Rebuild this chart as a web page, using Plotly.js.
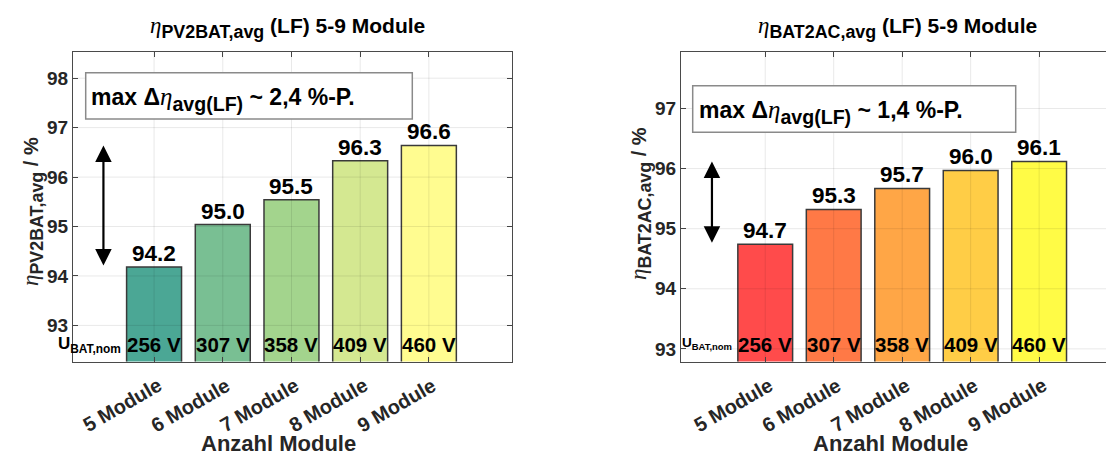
<!DOCTYPE html>
<html>
<head>
<meta charset="utf-8">
<script src="https://cdn.plot.ly/plotly-3.0.1.min.js"></script>
<style>
html,body{margin:0;padding:0;overflow:hidden;background:#fff;}
#chart{width:1130px;height:455px;}
</style>
</head>
<body>
<div id="chart"></div>
<script>
// ---- data ----
const categories = ['5 Module','6 Module','7 Module','8 Module','9 Module'];
const voltages = ['256 V','307 V','358 V','409 V','460 V'];
const etaPV2BAT = [94.18, 95.04, 95.54, 96.33, 96.64];
const etaBAT2AC = [94.74, 95.32, 95.67, 95.97, 96.12];
const colorsPV2BAT = ['#4BA795','#79BF93','#A3D48D','#D4E891','#FFFC90'];
const colorsBAT2AC = ['#FF4B4B','#FF7946','#FFA646','#FFCD46','#FFFB46'];
const yTicksLeft = [93,94,95,96,97,98];
const yTicksRight = [93,94,95,96,97];
const xTitle = 'Anzahl Module';
const boxTextLeft = '2,4 %-P.';
const boxTextRight = '1,4 %-P.';

// ---- helpers ----
const W = 1130, H = 455;
const px = v => v / W;
const py = v => 1 - v / H;
const idx = categories.map((_, i) => i);
const FONT = 'Liberation Sans, Arial, Helvetica, sans-serif';
const eta = s => '<span style="font-family:Liberation Serif;font-style:italic;font-weight:normal;font-size:' + s + 'px">η</span>';
const S = (t, s) => '<span style="font-size:' + s + 'px">' + t + '</span>';
const SUB = t => '<sub>' + t + '</sub>';

const barTrace = (vals, cols, xa, ya) => ({
  type: 'bar', x: idx, y: vals, width: 0.8, xaxis: xa, yaxis: ya,
  marker: {color: cols, line: {color: '#3a3a3a', width: 1.5}},
  hoverinfo: 'skip'
});

const data = [
  barTrace(etaPV2BAT, colorsPV2BAT, 'x', 'y'),
  barTrace(etaBAT2AC, colorsBAT2AC, 'x2', 'y2')
];

const axisCommon = {
  showline: true, linecolor: '#4a4a4a', linewidth: 1, mirror: 'ticks',
  ticks: 'inside', ticklen: 5, tickcolor: '#4a4a4a',
  showgrid: false, zeroline: false, layer: 'above traces',
  fixedrange: true
};
const yFont = {family: FONT, size: 19, color: '#262626', weight: 'bold'};

const layout = {
  width: W, height: H,
  margin: {l: 0, r: 0, t: 0, b: 0},
  paper_bgcolor: '#fff', plot_bgcolor: '#fff',
  showlegend: false,
  font: {family: FONT},
  xaxis: Object.assign({}, axisCommon, {domain: [px(73), px(512)], range: [-1.18, 5.21], tickvals: idx, showticklabels: false, anchor: 'y'}),
  yaxis: Object.assign({}, axisCommon, {domain: [py(361.5), py(52)], range: [92.27, 98.53], tickvals: yTicksLeft, tickfont: yFont, anchor: 'x'}),
  xaxis2: Object.assign({}, axisCommon, {domain: [px(681), px(1122)], range: [-1.23, 5.21], tickvals: idx, showticklabels: false, anchor: 'y2'}),
  yaxis2: Object.assign({}, axisCommon, {domain: [py(361.5), py(52)], range: [92.79, 97.94], tickvals: yTicksRight, tickfont: yFont, anchor: 'x2'}),
  shapes: [],
  annotations: []
};

// grid lines drawn over the bars (semi-transparent, like the original)
const gridLine = 'rgba(0,0,0,0.09)';
[['x', 'y', yTicksLeft], ['x2', 'y2', yTicksRight]].forEach(g => {
  idx.forEach(i => layout.shapes.push({type: 'line', xref: g[0], yref: g[1] + ' domain', x0: i, x1: i, y0: 0, y1: 1, line: {color: gridLine, width: 1}, layer: 'above'}));
  g[2].forEach(t => layout.shapes.push({type: 'line', xref: g[0] + ' domain', yref: g[1], x0: 0, x1: 1, y0: t, y1: t, line: {color: gridLine, width: 1}, layer: 'above'}));
});
layout.shapes.push(
  {type: 'rect', xref: 'paper', yref: 'paper', x0: px(85.7), x1: px(412.3), y0: py(119), y1: py(72.7), line: {color: '#8a8a8a', width: 1.5}, fillcolor: '#fff', layer: 'above'},
  {type: 'rect', xref: 'paper', yref: 'paper', x0: px(692.7), x1: px(1015.7), y0: py(132.3), y1: py(85.7), line: {color: '#8a8a8a', width: 1.5}, fillcolor: '#fff', layer: 'above'}
);

const ann = layout.annotations;
const bold = (size, color) => ({family: FONT, size: size, color: color || '#000', weight: 'bold'});

// titles (sub = 70% of annotation font size)
[['PV2BAT,avg', 287], ['BAT2AC,avg', 898]].forEach(t => {
  ann.push({xref: 'paper', yref: 'paper', x: px(t[1]), y: py(27), xanchor: 'center', yanchor: 'middle', showarrow: false,
    text: eta(23) + SUB(t[0]) + S(' (LF) 5-9 Module', 21), font: bold(25.5)});
});

// box texts
ann.push({xref: 'paper', yref: 'paper', x: px(89), y: py(99), xanchor: 'left', yanchor: 'middle', showarrow: false,
  text: S('max Δ', 23) + eta(25) + SUB('avg(LF)') + S(' ~ ' + boxTextLeft, 23), font: bold(28)});
ann.push({xref: 'paper', yref: 'paper', x: px(697), y: py(112), xanchor: 'left', yanchor: 'middle', showarrow: false,
  text: S('max Δ', 23) + eta(25) + SUB('avg(LF)') + S(' ~ ' + boxTextRight, 23), font: bold(28)});

// per-panel items
const panels = [
  {vals: etaPV2BAT, xa: 'x', ya: 'y', arrowX: -0.737, yl: 'PV2BAT,avg', ylx: 32, yly: 212, xtx: 278, ux: 56, uy: 345, us: 17, uf: 17},
  {vals: etaBAT2AC, xa: 'x2', ya: 'y2', arrowX: -0.778, yl: 'BAT2AC,avg', ylx: 641, yly: 204, xtx: 890, ux: 680, uy: 343, us: 13.5, uf: 13.5}
];
panels.forEach(p => {
  p.vals.forEach((v, i) => {
    ann.push({xref: p.xa, yref: p.ya, x: i, y: v, text: v.toFixed(1), yanchor: 'bottom', xanchor: 'center', showarrow: false, yshift: -1, font: bold(22.5)});
    ann.push({xref: p.xa, yref: 'paper', x: i, y: py(344), text: voltages[i], yanchor: 'middle', xanchor: 'center', showarrow: false, font: bold(20.5)});
    ann.push({xref: p.xa, yref: 'paper', x: i, y: py(405), xshift: -32, text: categories[i], textangle: -30, xanchor: 'center', yanchor: 'middle', showarrow: false, font: bold(20, '#262626')});
  });
  const vmin = Math.min.apply(null, p.vals), vmax = Math.max.apply(null, p.vals);
  ann.push({xref: p.xa, yref: p.ya, axref: p.xa, ayref: p.ya, x: p.arrowX, y: vmax, ax: p.arrowX, ay: vmin, text: '',
    showarrow: true, arrowhead: 2, arrowside: 'end+start', arrowsize: 1.5, arrowwidth: 2.2, arrowcolor: '#000', standoff: 0, startstandoff: 0});
  ann.push({xref: 'paper', yref: 'paper', x: px(p.xtx), y: py(443), text: xTitle, xanchor: 'center', yanchor: 'middle', showarrow: false, font: bold(22, '#262626')});
  ann.push({xref: 'paper', yref: 'paper', x: px(p.ylx), y: py(p.yly), text: eta(23) + SUB(p.yl) + S(' / %', 20), textangle: -90, xanchor: 'center', yanchor: 'middle', showarrow: false, font: bold(25.5, '#262626')});
  ann.push({xref: 'paper', yref: 'paper', x: px(p.ux), y: py(p.uy), text: S('U', p.us) + SUB('BAT,nom'), xanchor: 'left', yanchor: 'middle', showarrow: false, font: bold(p.uf, '#000')});
});

Plotly.newPlot('chart', data, layout, {staticPlot: true, displayModeBar: false});
</script>
</body>
</html>
